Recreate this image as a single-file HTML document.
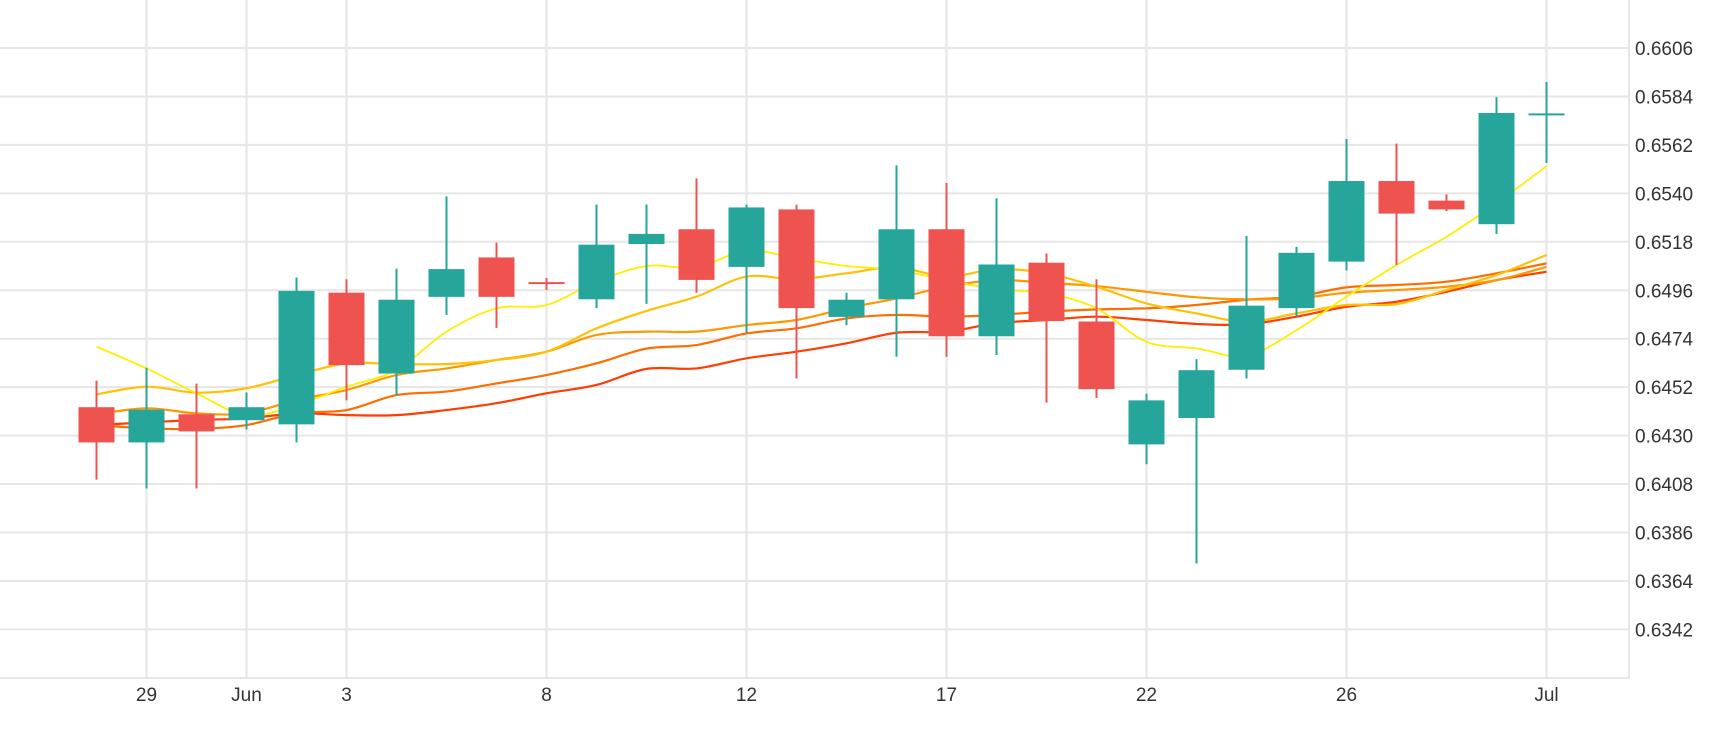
<!DOCTYPE html>
<html><head><meta charset="utf-8"><style>
html,body{margin:0;padding:0;background:#fff;}
svg{display:block;font-family:"Liberation Sans",sans-serif;}
</style></head><body>
<svg id="chart" width="1730" height="730" viewBox="0 0 1730 730" xmlns="http://www.w3.org/2000/svg">
<g id="grid"></g>
<g id="mas"></g>
<g id="candles"></g>
<g id="yaxis"></g>
<g id="xaxis"></g>
</svg>
<script>
const opens  = [.64429,.64269,.64397,.64370,.64351,.64949,.64582,.64930,.65109,.64997,.64919,.65170,.65237,.65066,.65327,.64839,.64919,.65237,.64751,.65085,.64818,.64260,.64380,.64599,.64879,.65090,.65456,.65367,.65260,.65763];
const highs  = [.64549,.64608,.64536,.64496,.65018,.65010,.65058,.65386,.65176,.65016,.65349,.65349,.65468,.65349,.65349,.64949,.65527,.65447,.65378,.65127,.65010,.64490,.64647,.65207,.65157,.65647,.65626,.65395,.65837,.65906];
const lows   = [.64100,.64060,.64060,.64328,.64269,.64460,.64485,.64848,.64789,.64961,.64879,.64898,.64949,.64768,.64559,.64801,.64658,.64658,.64666,.64450,.64471,.64170,.63719,.64559,.64843,.65050,.65075,.65319,.65216,.65538];
const closes = [.64269,.64418,.64319,.64429,.64957,.64620,.64917,.65056,.64930,.64991,.65167,.65216,.65007,.65336,.64879,.64917,.65237,.64751,.65077,.64820,.64511,.64460,.64597,.64890,.65130,.65456,.65308,.65327,.65765,.65763];
const maYellow = [.64704,.64605,.64492,.64393,.64439,.64522,.64598,.64772,.64878,.64893,.64999,.65070,.65064,.65140,.65105,.65070,.65052,.65006,.64964,.64946,.64878,.64726,.64696,.64662,.64779,.64931,.65075,.65203,.65355,.65524];
const maGold   = [.64487,.64522,.64495,.64515,.64575,.64628,.64625,.64625,.64643,.64681,.64787,.64866,.64931,.65022,.65010,.65037,.65064,.65022,.65055,.65037,.64976,.64900,.64855,.64817,.64855,.64893,.64897,.64961,.65029,.65120];
const maOrange = [.64397,.64424,.64401,.64401,.64462,.64507,.64575,.64605,.64643,.64681,.64757,.64772,.64772,.64802,.64825,.64878,.64923,.64976,.65006,.64994,.64979,.64953,.64928,.64919,.64923,.64949,.64961,.64976,.65006,.65066];
const maDark   = [.64348,.64333,.64330,.64348,.64401,.64416,.64484,.64500,.64537,.64575,.64628,.64695,.64711,.64764,.64787,.64832,.64848,.64840,.64848,.64863,.64873,.64878,.64893,.64917,.64931,.64973,.64984,.64999,.65037,.65082];
const maRed    = [.64348,.64360,.64371,.64378,.64401,.64393,.64393,.64416,.64447,.64492,.64530,.64603,.64605,.64651,.64681,.64719,.64767,.64772,.64810,.64825,.64840,.64825,.64807,.64805,.64840,.64885,.64908,.64953,.65006,.65044];
const yTicks = [0.6606,0.6584,0.6562,0.6540,0.6518,0.6496,0.6474,0.6452,0.6430,0.6408,0.6386,0.6364,0.6342];
const xTickIdx = [1,3,5,9,13,17,21,25,29];
const xTickLabels = ["29","Jun","3","8","12","17","22","26","Jul"];

const NS="http://www.w3.org/2000/svg";
const plotRight=1629, plotBottom=678;
function xs(i){return 96.5+50*i;}
function ys(p){return 48+(0.6606-p)/0.0022*48.45;}
function mk(tag,attrs,parent){const e=document.createElementNS(NS,tag);for(const k in attrs)e.setAttribute(k,attrs[k]);parent.appendChild(e);return e;}

const grid=document.getElementById('grid');
yTicks.forEach(t=>{
  const l=mk('line',{x1:0,x2:plotRight,y1:ys(t),y2:ys(t),stroke:'#e6e6e6','stroke-width':2},grid);
  
  
});
xTickIdx.forEach(i=>{
  const l=mk('line',{x1:xs(i),x2:xs(i),y1:0,y2:plotBottom,stroke:'#e6e6e6','stroke-width':2},grid);
  
  
});
const ax1=mk('line',{x1:0,x2:plotRight,y1:plotBottom,y2:plotBottom,stroke:'#e6e6e6','stroke-width':2},grid);


const ax2=mk('line',{x1:plotRight,x2:plotRight,y1:0,y2:plotBottom,stroke:'#e6e6e6','stroke-width':2},grid);



function smoothPath(vals){
  const pts=vals.map((v,i)=>[xs(i),ys(v)]);
  let d='M'+pts[0][0]+','+pts[0][1];
  for(let i=0;i<pts.length-1;i++){
    const p0=pts[Math.max(0,i-1)],p1=pts[i],p2=pts[i+1],p3=pts[Math.min(pts.length-1,i+2)];
    const c1x=p1[0]+(p2[0]-p0[0])/6,c1y=p1[1]+(p2[1]-p0[1])/6;
    const c2x=p2[0]-(p3[0]-p1[0])/6,c2y=p2[1]-(p3[1]-p1[1])/6;
    d+=' C'+c1x+','+c1y+' '+c2x+','+c2y+' '+p2[0]+','+p2[1];
  }
  return d;
}
const mas=document.getElementById('mas');
[[maRed,'#ff3d00',2.2,'ma-red'],[maDark,'#ff6d00',2.2,'ma-dark-orange'],[maOrange,'#ff9800',2.2,'ma-orange'],[maGold,'#ffc107',2.2,'ma-gold'],[maYellow,'#ffee00',1.8,'ma-yellow']].forEach(s=>{
  const p=mk('path',{d:smoothPath(s[0]),fill:'none',stroke:s[1],'stroke-width':s[2]},mas);
  
  
});

const cg=document.getElementById('candles');
opens.forEach((o,i)=>{
  const c=closes[i],up=c>=o,col=up?'#26a69a':'#ef5350';
  const g=mk('g',{},cg);
  
  
  mk('line',{x1:xs(i),x2:xs(i),y1:ys(highs[i]),y2:ys(lows[i]),stroke:col,'stroke-width':2},g);
  const top=ys(Math.max(o,c)),h=Math.max(2,ys(Math.min(o,c))-top);
  mk('rect',{x:xs(i)-18,y:top,width:36,height:h,fill:col},g);
});

const ya=document.getElementById('yaxis');
yTicks.forEach(t=>{
  const e=mk('text',{x:1635,y:ys(t)+7,'font-size':19,fill:'#333'},ya);
  e.textContent=t.toFixed(4);
  
  
});
const xa=document.getElementById('xaxis');
xTickIdx.forEach((i,k)=>{
  const e=mk('text',{x:xs(i),y:701,'font-size':19,fill:'#333','text-anchor':'middle'},xa);
  e.textContent=xTickLabels[k];
  
  
});
</script>
</body></html>
